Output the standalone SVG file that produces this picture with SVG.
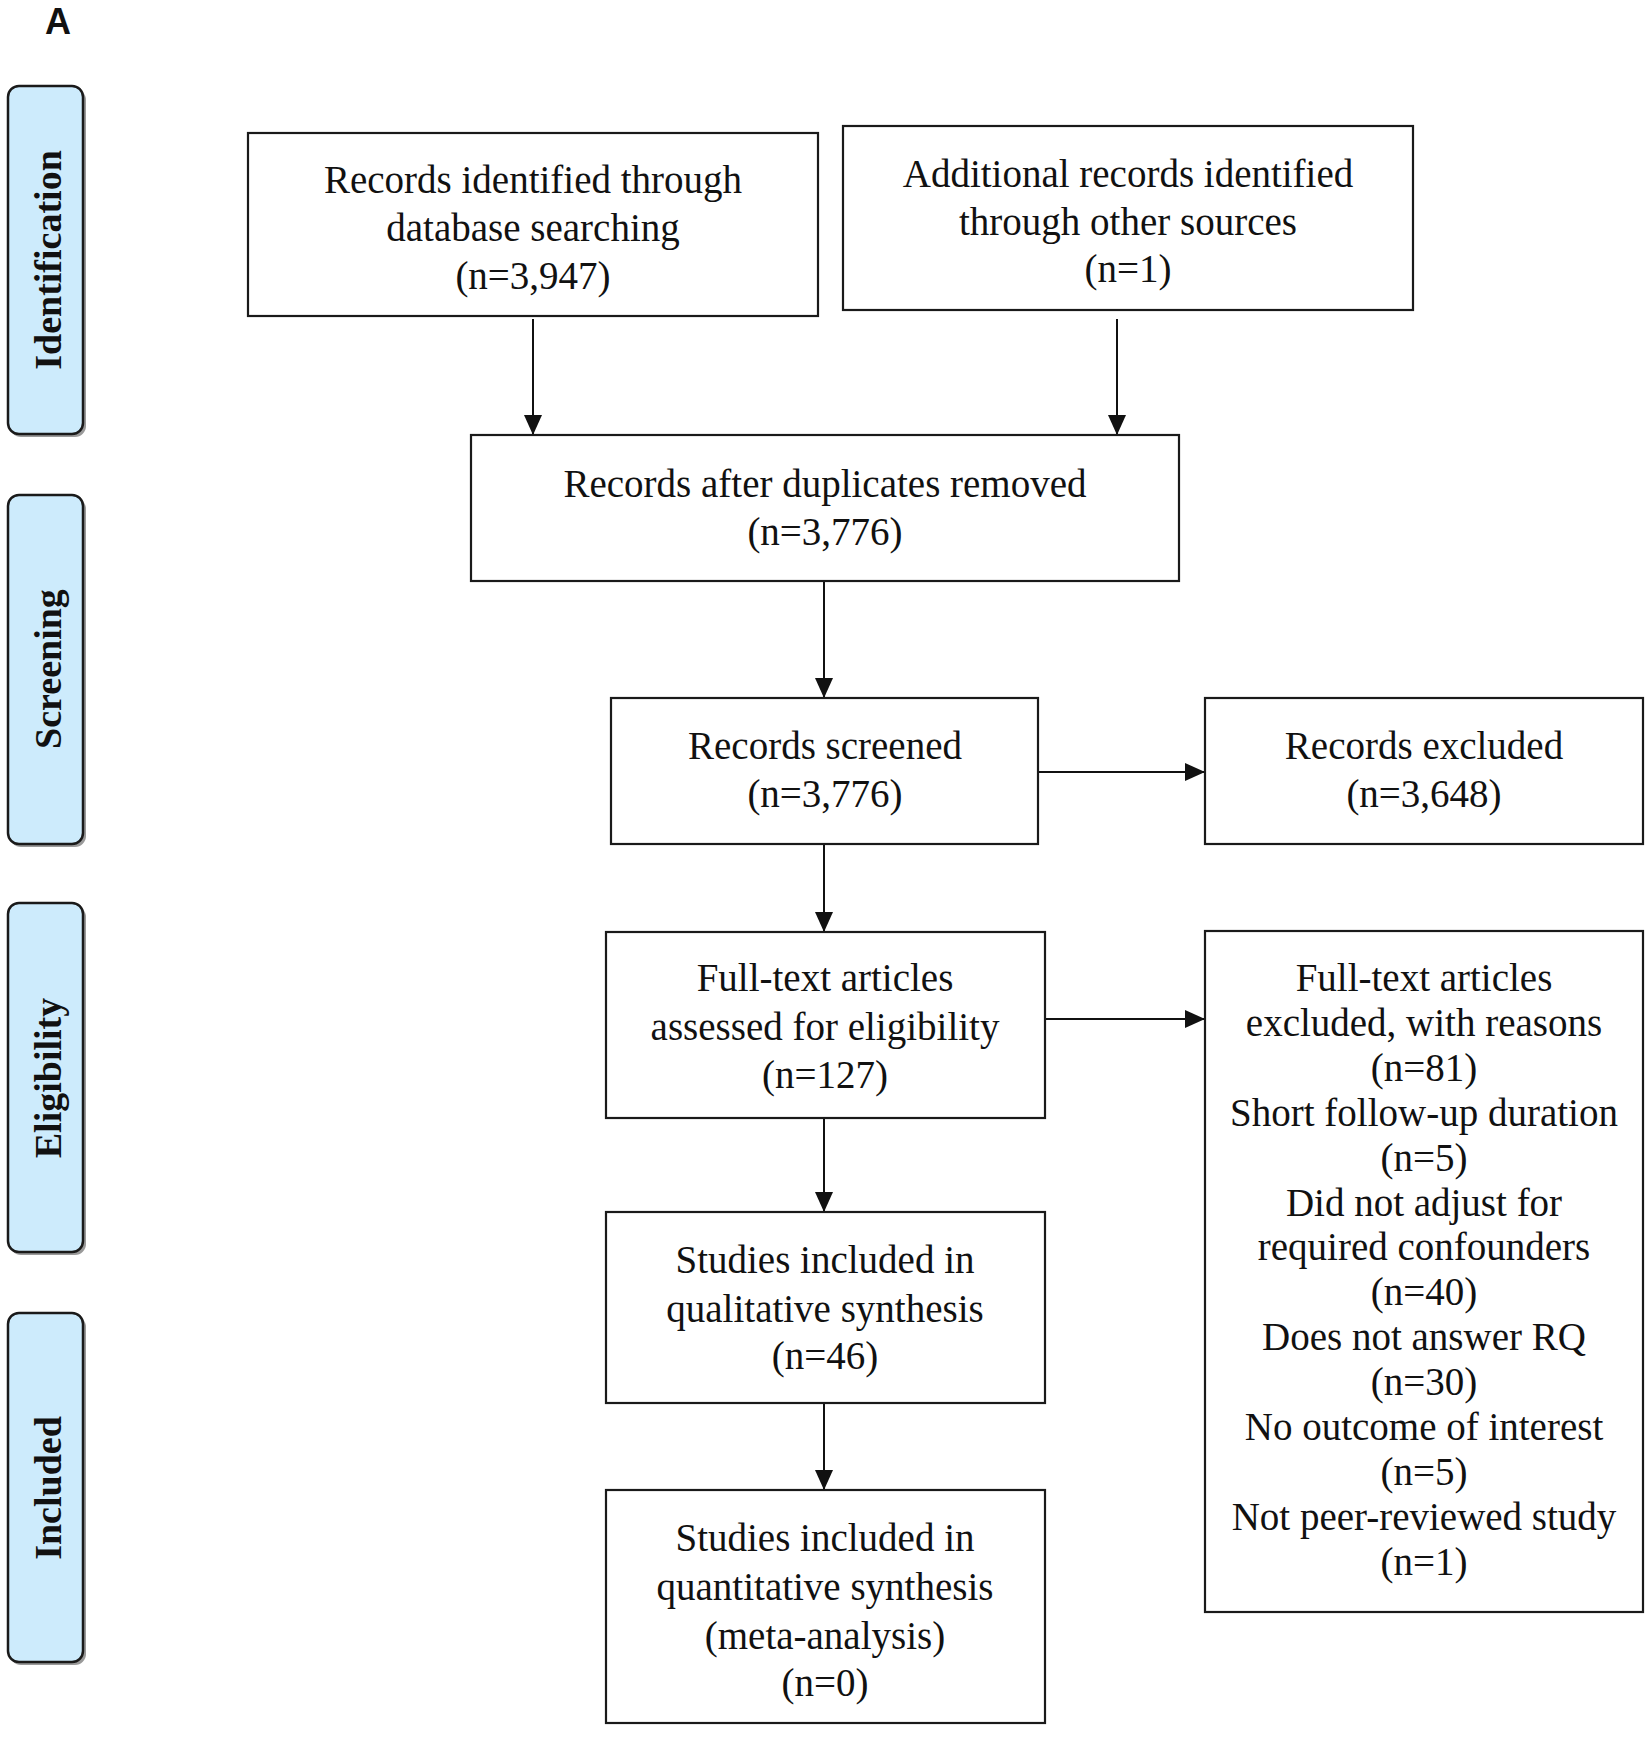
<svg xmlns="http://www.w3.org/2000/svg" width="1650" height="1738" viewBox="0 0 1650 1738">
<style>
  .box { fill: #ffffff; stroke: #1a1a1a; stroke-width: 2.2; }
  .side { fill: #cdebfc; stroke: #1a1a1a; stroke-width: 2.5; }
  .shadow { fill: #9a9a9a; }
  .t { font-family: "Liberation Serif", "Times New Roman", serif; font-size: 39px; fill: #111; text-anchor: middle; }
  .s { font-family: "Liberation Serif", "Times New Roman", serif; font-size: 38px; font-weight: bold; fill: #111; text-anchor: middle; }
  .lab { font-family: "Liberation Sans", Arial, sans-serif; font-size: 36px; font-weight: bold; fill: #111; }
  .edge { stroke: #111; stroke-width: 2; fill: none; marker-end: url(#arr); }
</style>
<defs>
  <marker id="arr" markerUnits="userSpaceOnUse" markerWidth="20" markerHeight="18" refX="20" refY="9" orient="auto">
    <path d="M0,0 L20,9 L0,18 z" fill="#111"/>
  </marker>
</defs>
<rect width="1650" height="1738" fill="#ffffff"/>
<text class="lab" x="45" y="34">A</text>

<g id="stage-identification">
  <rect class="shadow" x="10" y="89" width="76" height="348" rx="11"/>
  <rect class="side" x="8" y="86" width="75" height="348" rx="11"/>
  <text class="s" transform="translate(61,260) rotate(-90)">Identification</text>
</g>
<g id="stage-screening">
  <rect class="shadow" x="10" y="498" width="76" height="349" rx="11"/>
  <rect class="side" x="8" y="495" width="75" height="349" rx="11"/>
  <text class="s" transform="translate(61,669) rotate(-90)">Screening</text>
</g>
<g id="stage-eligibility">
  <rect class="shadow" x="10" y="906" width="76" height="349" rx="11"/>
  <rect class="side" x="8" y="903" width="75" height="349" rx="11"/>
  <text class="s" transform="translate(61,1078) rotate(-90)">Eligibility</text>
</g>
<g id="stage-included">
  <rect class="shadow" x="10" y="1316" width="76" height="349" rx="11"/>
  <rect class="side" x="8" y="1313" width="75" height="349" rx="11"/>
  <text class="s" transform="translate(61,1488) rotate(-90)">Included</text>
</g>

<g id="connectors">
  <line class="edge" x1="533" y1="319" x2="533" y2="435"/>
  <line class="edge" x1="1117" y1="319" x2="1117" y2="435"/>
  <line class="edge" x1="824" y1="581" x2="824" y2="698"/>
  <line class="edge" x1="1038" y1="772" x2="1205" y2="772"/>
  <line class="edge" x1="824" y1="844" x2="824" y2="932"/>
  <line class="edge" x1="1045" y1="1019" x2="1205" y2="1019"/>
  <line class="edge" x1="824" y1="1118" x2="824" y2="1212"/>
  <line class="edge" x1="824" y1="1403" x2="824" y2="1490"/>
</g>

<g id="records-identified">
  <rect class="box" x="248" y="133" width="570" height="183"/>
  <text class="t" x="533" y="193">Records identified through</text>
  <text class="t" x="533" y="241">database searching</text>
  <text class="t" x="533" y="289">(n=3,947)</text>
</g>
<g id="additional-records">
  <rect class="box" x="843" y="126" width="570" height="184"/>
  <text class="t" x="1128" y="187">Additional records identified</text>
  <text class="t" x="1128" y="235">through other sources</text>
  <text class="t" x="1128" y="282">(n=1)</text>
</g>
<g id="after-duplicates">
  <rect class="box" x="471" y="435" width="708" height="146"/>
  <text class="t" x="825" y="497">Records after duplicates removed</text>
  <text class="t" x="825" y="545">(n=3,776)</text>
</g>
<g id="records-screened">
  <rect class="box" x="611" y="698" width="427" height="146"/>
  <text class="t" x="825" y="759">Records screened</text>
  <text class="t" x="825" y="807">(n=3,776)</text>
</g>
<g id="records-excluded">
  <rect class="box" x="1205" y="698" width="438" height="146"/>
  <text class="t" x="1424" y="759">Records excluded</text>
  <text class="t" x="1424" y="807">(n=3,648)</text>
</g>
<g id="fulltext-assessed">
  <rect class="box" x="606" y="932" width="439" height="186"/>
  <text class="t" x="825" y="991">Full-text articles</text>
  <text class="t" x="825" y="1040">assessed for eligibility</text>
  <text class="t" x="825" y="1088">(n=127)</text>
</g>
<g id="fulltext-excluded">
  <rect class="box" x="1205" y="931" width="438" height="681"/>
  <text class="t" x="1424" y="991">Full-text articles</text>
  <text class="t" x="1424" y="1036">excluded, with reasons</text>
  <text class="t" x="1424" y="1081">(n=81)</text>
  <text class="t" x="1424" y="1126">Short follow-up duration</text>
  <text class="t" x="1424" y="1171">(n=5)</text>
  <text class="t" x="1424" y="1216">Did not adjust for</text>
  <text class="t" x="1424" y="1260">required confounders</text>
  <text class="t" x="1424" y="1305">(n=40)</text>
  <text class="t" x="1424" y="1350">Does not answer RQ</text>
  <text class="t" x="1424" y="1395">(n=30)</text>
  <text class="t" x="1424" y="1440">No outcome of interest</text>
  <text class="t" x="1424" y="1485">(n=5)</text>
  <text class="t" x="1424" y="1530">Not peer-reviewed study</text>
  <text class="t" x="1424" y="1575">(n=1)</text>
</g>
<g id="qualitative">
  <rect class="box" x="606" y="1212" width="439" height="191"/>
  <text class="t" x="825" y="1273">Studies included in</text>
  <text class="t" x="825" y="1322">qualitative synthesis</text>
  <text class="t" x="825" y="1369">(n=46)</text>
</g>
<g id="quantitative">
  <rect class="box" x="606" y="1490" width="439" height="233"/>
  <text class="t" x="825" y="1551">Studies included in</text>
  <text class="t" x="825" y="1600">quantitative synthesis</text>
  <text class="t" x="825" y="1649">(meta-analysis)</text>
  <text class="t" x="825" y="1696">(n=0)</text>
</g>
</svg>
